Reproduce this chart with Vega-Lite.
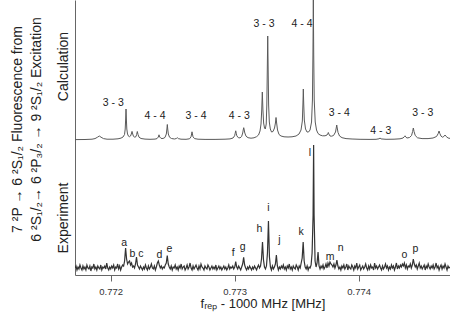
{
"$schema":"https://vega.github.io/schema/vega-lite/v6.json",
"width":375,"height":275,
"autosize":"none",
"padding":{"left":75,"top":0,"right":0,"bottom":43},
"background":"white",
"config":{"view":{"stroke":null},"font":"Liberation Sans"},
"datasets":{
"calc":[
{"f":0.7717121,"v":135.4},{"f":0.7717927,"v":135.5},{"f":0.7718492,"v":135.8},{"f":0.7718734,"v":136.4},{"f":0.7718935,"v":137.8},{"f":0.7719081,"v":139},{"f":0.7719218,"v":137.8},{"f":0.7719419,"v":136.4},{"f":0.7719702,"v":135.8},{"f":0.7720185,"v":135.8},
{"f":0.7720589,"v":136.2},{"f":0.7720831,"v":136.9},{"f":0.7720992,"v":138},{"f":0.7721113,"v":140.5},{"f":0.7721169,"v":146},{"f":0.7721202,"v":155},{"f":0.7721234,"v":166},{"f":0.7721266,"v":155},{"f":0.7721298,"v":146},{"f":0.7721355,"v":141},
{"f":0.7721435,"v":138.8},{"f":0.7721516,"v":138.3},{"f":0.7721597,"v":139},{"f":0.7721661,"v":141},{"f":0.7721718,"v":143.6},{"f":0.7721774,"v":141},{"f":0.7721839,"v":138.6},{"f":0.7721944,"v":137.8},{"f":0.772204,"v":138.4},{"f":0.7722089,"v":140.5},
{"f":0.7722145,"v":143.5},{"f":0.7722202,"v":140.5},{"f":0.7722282,"v":137.8},{"f":0.7722444,"v":136.5},{"f":0.7722766,"v":135.9},{"f":0.7723169,"v":135.7},{"f":0.7723573,"v":135.9},{"f":0.7723734,"v":136.4},{"f":0.7723839,"v":138},{"f":0.7723895,"v":140.2},
{"f":0.7723952,"v":138},{"f":0.7724056,"v":136.6},{"f":0.7724218,"v":136.5},{"f":0.7724379,"v":137.6},{"f":0.7724484,"v":141},{"f":0.7724532,"v":146},{"f":0.7724565,"v":150.5},{"f":0.7724597,"v":146},{"f":0.7724645,"v":141},{"f":0.7724742,"v":137.8},
{"f":0.7724903,"v":136.5},{"f":0.7725145,"v":136},{"f":0.772529,"v":136.5},{"f":0.7725371,"v":137.3},{"f":0.7725452,"v":136.4},{"f":0.7725669,"v":135.8},{"f":0.7726073,"v":135.7},{"f":0.7726355,"v":136.2},{"f":0.7726476,"v":138.2},{"f":0.7726524,"v":141},
{"f":0.7726556,"v":143.2},{"f":0.7726589,"v":141},{"f":0.7726637,"v":138.2},{"f":0.7726758,"v":136.4},{"f":0.772704,"v":135.8},{"f":0.7727605,"v":135.6},{"f":0.7728411,"v":135.6},{"f":0.7729218,"v":135.8},{"f":0.7729621,"v":136.1},{"f":0.7729863,"v":137},
{"f":0.7729992,"v":139.2},{"f":0.773004,"v":141.8},{"f":0.7730081,"v":144.2},{"f":0.7730121,"v":141.8},{"f":0.7730169,"v":139.2},{"f":0.773029,"v":137.3},{"f":0.7730427,"v":137.1},{"f":0.7730556,"v":138.5},{"f":0.7730645,"v":142},{"f":0.7730685,"v":145},
{"f":0.7730726,"v":147.3},{"f":0.7730766,"v":145},{"f":0.7730814,"v":142},{"f":0.7730911,"v":138.8},{"f":0.7731073,"v":137.3},{"f":0.7731315,"v":136.8},{"f":0.7731556,"v":137.2},{"f":0.7731758,"v":138.3},{"f":0.7731919,"v":140},{"f":0.773204,"v":144},
{"f":0.7732121,"v":151},{"f":0.7732177,"v":165},{"f":0.7732226,"v":183},{"f":0.7732274,"v":165},{"f":0.7732331,"v":152},{"f":0.7732403,"v":147},{"f":0.7732468,"v":146},{"f":0.773254,"v":151},{"f":0.7732589,"v":170},{"f":0.7732621,"v":200},
{"f":0.7732661,"v":239},{"f":0.7732702,"v":200},{"f":0.7732734,"v":170},{"f":0.773279,"v":153},{"f":0.7732871,"v":146},{"f":0.7732968,"v":143},{"f":0.7733089,"v":143.5},{"f":0.773321,"v":147},{"f":0.7733282,"v":152},{"f":0.7733331,"v":157.5},
{"f":0.7733379,"v":152},{"f":0.7733452,"v":145},{"f":0.7733573,"v":140.5},{"f":0.7733734,"v":139},{"f":0.7733976,"v":138.2},{"f":0.7734298,"v":138},{"f":0.7734621,"v":138.2},{"f":0.7734944,"v":139},{"f":0.7735185,"v":141},{"f":0.7735347,"v":145},
{"f":0.7735452,"v":154},{"f":0.77355,"v":171},{"f":0.7735532,"v":186},{"f":0.7735564,"v":171},{"f":0.7735613,"v":155},{"f":0.773571,"v":146},{"f":0.7735831,"v":143},{"f":0.7735952,"v":143},{"f":0.7736073,"v":145},{"f":0.7736194,"v":153},
{"f":0.7736266,"v":175},{"f":0.7736306,"v":220},{"f":0.7736339,"v":275},{"f":0.7736371,"v":220},{"f":0.7736411,"v":175},{"f":0.7736492,"v":153},{"f":0.7736597,"v":145},{"f":0.7736718,"v":141.5},{"f":0.7736879,"v":140},{"f":0.7737081,"v":139.2},
{"f":0.7737282,"v":139.2},{"f":0.7737444,"v":140},{"f":0.7737508,"v":141.5},{"f":0.7737548,"v":142.5},{"f":0.7737589,"v":141},{"f":0.7737685,"v":139},{"f":0.7737806,"v":138.8},{"f":0.7737968,"v":139.5},{"f":0.7738129,"v":143},{"f":0.7738185,"v":147},
{"f":0.7738226,"v":150},{"f":0.7738266,"v":147},{"f":0.7738331,"v":142.5},{"f":0.7738452,"v":139},{"f":0.7738653,"v":137.3},{"f":0.7738976,"v":136.4},{"f":0.773946,"v":136},{"f":0.7740105,"v":135.7},{"f":0.7740911,"v":135.6},{"f":0.7741395,"v":135.7},
{"f":0.7741637,"v":136.2},{"f":0.7741718,"v":137},{"f":0.7741798,"v":136.1},{"f":0.7742202,"v":135.7},{"f":0.7742847,"v":135.8},{"f":0.7743331,"v":136.2},{"f":0.7743573,"v":137},{"f":0.7743677,"v":138.3},{"f":0.7743734,"v":139.2},{"f":0.774379,"v":138},
{"f":0.7743895,"v":137},{"f":0.7744097,"v":137.5},{"f":0.7744258,"v":139.5},{"f":0.7744347,"v":143.5},{"f":0.7744403,"v":147},{"f":0.774446,"v":143.5},{"f":0.7744556,"v":139.5},{"f":0.7744742,"v":137.2},{"f":0.7745105,"v":136.4},{"f":0.7745589,"v":136.4},
{"f":0.7745992,"v":137},{"f":0.7746274,"v":138.5},{"f":0.7746411,"v":141.5},{"f":0.7746476,"v":144},{"f":0.774654,"v":141.5},{"f":0.7746637,"v":138.8},{"f":0.7746758,"v":137.8},{"f":0.7746863,"v":138.5},{"f":0.774696,"v":140},{"f":0.7747056,"v":138.5},
{"f":0.7747202,"v":137},{"f":0.7747363,"v":136.6}
],
"exp":[
{"f":0.771712,"v":7},{"f":0.77172,"v":9},{"f":0.771728,"v":5},{"f":0.771736,"v":8},{"f":0.771744,"v":6},{"f":0.771752,"v":10},{"f":0.77176,"v":7},{"f":0.771768,"v":5},{"f":0.771776,"v":9},{"f":0.771784,"v":6},
{"f":0.771792,"v":8},{"f":0.7718,"v":5},{"f":0.771808,"v":10},{"f":0.771816,"v":7},{"f":0.771824,"v":6},{"f":0.771832,"v":9},{"f":0.77184,"v":4},{"f":0.771848,"v":8},{"f":0.771856,"v":7},{"f":0.771864,"v":11},
{"f":0.771872,"v":6},{"f":0.77188,"v":8},{"f":0.771888,"v":5},{"f":0.771896,"v":9},{"f":0.771904,"v":7},{"f":0.771912,"v":6},{"f":0.77192,"v":10},{"f":0.771928,"v":5},{"f":0.771936,"v":8},{"f":0.771944,"v":7},
{"f":0.771952,"v":9},{"f":0.77196,"v":6},{"f":0.771968,"v":12},{"f":0.771976,"v":7},{"f":0.771984,"v":5},{"f":0.771992,"v":8},{"f":0.772,"v":6},{"f":0.772008,"v":9},{"f":0.772016,"v":7},{"f":0.772024,"v":10},
{"f":0.772032,"v":5},{"f":0.77204,"v":8},{"f":0.772048,"v":7},{"f":0.772056,"v":11},{"f":0.772064,"v":6},{"f":0.772072,"v":9},{"f":0.77208,"v":5},{"f":0.772088,"v":8},{"f":0.772096,"v":10},{"f":0.772104,"v":9},
{"f":0.772112,"v":14},{"f":0.77212,"v":27},{"f":0.772128,"v":16},{"f":0.772136,"v":11},{"f":0.772144,"v":13},{"f":0.772152,"v":14},{"f":0.77216,"v":10},{"f":0.772168,"v":12},{"f":0.772176,"v":8},{"f":0.772184,"v":9},
{"f":0.772192,"v":7},{"f":0.7722,"v":11},{"f":0.772208,"v":18},{"f":0.772216,"v":10},{"f":0.772224,"v":8},{"f":0.772232,"v":6},{"f":0.77224,"v":9},{"f":0.772248,"v":7},{"f":0.772256,"v":5},{"f":0.772264,"v":8},
{"f":0.772272,"v":6},{"f":0.77228,"v":10},{"f":0.772288,"v":7},{"f":0.772296,"v":5},{"f":0.772304,"v":9},{"f":0.772312,"v":6},{"f":0.77232,"v":8},{"f":0.772328,"v":11},{"f":0.772336,"v":7},{"f":0.772344,"v":6},
{"f":0.772352,"v":9},{"f":0.77236,"v":5},{"f":0.772368,"v":8},{"f":0.772376,"v":12},{"f":0.772384,"v":14},{"f":0.772392,"v":10},{"f":0.7724,"v":7},{"f":0.772408,"v":9},{"f":0.772416,"v":6},{"f":0.772424,"v":8},
{"f":0.772432,"v":7},{"f":0.77244,"v":10},{"f":0.772448,"v":12},{"f":0.772456,"v":19.5},{"f":0.772464,"v":11},{"f":0.772472,"v":8},{"f":0.77248,"v":6},{"f":0.772488,"v":9},{"f":0.772496,"v":5},{"f":0.772504,"v":8},
{"f":0.772512,"v":7},{"f":0.77252,"v":10},{"f":0.772528,"v":6},{"f":0.772536,"v":8},{"f":0.772544,"v":5},{"f":0.772552,"v":9},{"f":0.77256,"v":7},{"f":0.772568,"v":11},{"f":0.772576,"v":6},{"f":0.772584,"v":8},
{"f":0.772592,"v":9},{"f":0.7726,"v":5},{"f":0.772608,"v":7},{"f":0.772616,"v":10},{"f":0.772624,"v":6},{"f":0.772632,"v":8},{"f":0.77264,"v":12},{"f":0.772648,"v":7},{"f":0.772656,"v":5},{"f":0.772664,"v":9},
{"f":0.772672,"v":6},{"f":0.77268,"v":8},{"f":0.772688,"v":10},{"f":0.772696,"v":7},{"f":0.772704,"v":5},{"f":0.772712,"v":9},{"f":0.77272,"v":6},{"f":0.772728,"v":11},{"f":0.772736,"v":8},{"f":0.772744,"v":7},
{"f":0.772752,"v":5},{"f":0.77276,"v":9},{"f":0.772768,"v":7},{"f":0.772776,"v":6},{"f":0.772784,"v":10},{"f":0.772792,"v":8},{"f":0.7728,"v":5},{"f":0.772808,"v":7},{"f":0.772816,"v":9},{"f":0.772824,"v":6},
{"f":0.772832,"v":8},{"f":0.77284,"v":6},{"f":0.772848,"v":10},{"f":0.772856,"v":5},{"f":0.772864,"v":7},{"f":0.772872,"v":9},{"f":0.77288,"v":6},{"f":0.772888,"v":8},{"f":0.772896,"v":5},{"f":0.772904,"v":7},
{"f":0.772912,"v":9},{"f":0.77292,"v":6},{"f":0.772928,"v":8},{"f":0.772936,"v":5},{"f":0.772944,"v":7},{"f":0.772952,"v":10},{"f":0.77296,"v":6},{"f":0.772968,"v":8},{"f":0.772976,"v":7},{"f":0.772984,"v":9},
{"f":0.772992,"v":6},{"f":0.773,"v":8},{"f":0.773008,"v":13.3},{"f":0.773016,"v":8},{"f":0.773024,"v":6},{"f":0.773032,"v":9},{"f":0.77304,"v":7},{"f":0.773048,"v":5},{"f":0.773056,"v":8},{"f":0.773064,"v":11},
{"f":0.773072,"v":17.7},{"f":0.77308,"v":10},{"f":0.773088,"v":7},{"f":0.773096,"v":5},{"f":0.773104,"v":8},{"f":0.773112,"v":6},{"f":0.77312,"v":9},{"f":0.773128,"v":7},{"f":0.773136,"v":5},{"f":0.773144,"v":8},
{"f":0.773152,"v":6},{"f":0.77316,"v":9},{"f":0.773168,"v":7},{"f":0.773176,"v":5},{"f":0.773184,"v":8},{"f":0.773192,"v":10},{"f":0.7732,"v":7},{"f":0.773208,"v":9},{"f":0.773216,"v":16},{"f":0.773224,"v":33},
{"f":0.773232,"v":15},{"f":0.77324,"v":8},{"f":0.773248,"v":6},{"f":0.773256,"v":9},{"f":0.773264,"v":22},{"f":0.773272,"v":54},{"f":0.77328,"v":18},{"f":0.773288,"v":8},{"f":0.773296,"v":5},{"f":0.773304,"v":9},
{"f":0.773312,"v":6},{"f":0.77332,"v":8},{"f":0.773328,"v":11},{"f":0.773336,"v":20},{"f":0.773344,"v":9},{"f":0.773352,"v":5},{"f":0.77336,"v":8},{"f":0.773368,"v":6},{"f":0.773376,"v":9},{"f":0.773384,"v":7},
{"f":0.773392,"v":10},{"f":0.7734,"v":6},{"f":0.773408,"v":8},{"f":0.773416,"v":5},{"f":0.773424,"v":9},{"f":0.773432,"v":7},{"f":0.77344,"v":11},{"f":0.773448,"v":6},{"f":0.773456,"v":8},{"f":0.773464,"v":5},
{"f":0.773472,"v":9},{"f":0.77348,"v":7},{"f":0.773488,"v":6},{"f":0.773496,"v":10},{"f":0.773504,"v":8},{"f":0.773512,"v":5},{"f":0.77352,"v":9},{"f":0.773528,"v":7},{"f":0.773536,"v":12},{"f":0.773544,"v":17},
{"f":0.773552,"v":33},{"f":0.77356,"v":14},{"f":0.773568,"v":8},{"f":0.773576,"v":6},{"f":0.773584,"v":9},{"f":0.773592,"v":5},{"f":0.7736,"v":8},{"f":0.773608,"v":7},{"f":0.773616,"v":10},{"f":0.773624,"v":22},
{"f":0.773632,"v":60},{"f":0.7736363,"v":130},{"f":0.77364,"v":60},{"f":0.773648,"v":14},{"f":0.773656,"v":8},{"f":0.773664,"v":12},{"f":0.773672,"v":23},{"f":0.77368,"v":9},{"f":0.773688,"v":6},{"f":0.773696,"v":9},{"f":0.773704,"v":7},
{"f":0.773712,"v":10},{"f":0.77372,"v":6},{"f":0.773728,"v":8},{"f":0.773736,"v":11},{"f":0.773744,"v":7},{"f":0.773752,"v":12},{"f":0.77376,"v":9},{"f":0.773768,"v":13},{"f":0.773776,"v":11},{"f":0.773784,"v":10},
{"f":0.773792,"v":8},{"f":0.7738,"v":11},{"f":0.773808,"v":7},{"f":0.773816,"v":10},{"f":0.773824,"v":15},{"f":0.773832,"v":9},{"f":0.77384,"v":6},{"f":0.773848,"v":8},{"f":0.773856,"v":5},{"f":0.773864,"v":9},
{"f":0.773872,"v":7},{"f":0.77388,"v":10},{"f":0.773888,"v":6},{"f":0.773896,"v":8},{"f":0.773904,"v":11},{"f":0.773912,"v":5},{"f":0.77392,"v":9},{"f":0.773928,"v":7},{"f":0.773936,"v":6},{"f":0.773944,"v":10},
{"f":0.773952,"v":8},{"f":0.77396,"v":5},{"f":0.773968,"v":9},{"f":0.773976,"v":7},{"f":0.773984,"v":12},{"f":0.773992,"v":6},{"f":0.774,"v":8},{"f":0.774008,"v":10},{"f":0.774016,"v":5},{"f":0.774024,"v":7},
{"f":0.774032,"v":9},{"f":0.77404,"v":6},{"f":0.774048,"v":8},{"f":0.774056,"v":11},{"f":0.774064,"v":7},{"f":0.774072,"v":5},{"f":0.77408,"v":9},{"f":0.774088,"v":6},{"f":0.774096,"v":10},{"f":0.774104,"v":7},
{"f":0.774112,"v":8},{"f":0.77412,"v":5},{"f":0.774128,"v":12},{"f":0.774136,"v":7},{"f":0.774144,"v":9},{"f":0.774152,"v":6},{"f":0.77416,"v":8},{"f":0.774168,"v":10},{"f":0.774176,"v":7},{"f":0.774184,"v":5},
{"f":0.774192,"v":9},{"f":0.7742,"v":6},{"f":0.774208,"v":8},{"f":0.774216,"v":11},{"f":0.774224,"v":7},{"f":0.774232,"v":9},{"f":0.77424,"v":5},{"f":0.774248,"v":8},{"f":0.774256,"v":6},{"f":0.774264,"v":10},
{"f":0.774272,"v":7},{"f":0.77428,"v":9},{"f":0.774288,"v":5},{"f":0.774296,"v":8},{"f":0.774304,"v":12},{"f":0.774312,"v":6},{"f":0.77432,"v":9},{"f":0.774328,"v":7},{"f":0.774336,"v":10},{"f":0.774344,"v":8},
{"f":0.774352,"v":11},{"f":0.77436,"v":9},{"f":0.774368,"v":12},{"f":0.774376,"v":7},{"f":0.774384,"v":10},{"f":0.774392,"v":6},{"f":0.7744,"v":9},{"f":0.774408,"v":8},{"f":0.774416,"v":11},{"f":0.774424,"v":7},
{"f":0.774432,"v":10},{"f":0.77444,"v":16},{"f":0.774448,"v":11},{"f":0.774456,"v":8},{"f":0.774464,"v":10},{"f":0.774472,"v":6},{"f":0.77448,"v":9},{"f":0.774488,"v":12},{"f":0.774496,"v":7},{"f":0.774504,"v":9},
{"f":0.774512,"v":6},{"f":0.77452,"v":8},{"f":0.774528,"v":10},{"f":0.774536,"v":5},{"f":0.774544,"v":9},{"f":0.774552,"v":7},{"f":0.77456,"v":11},{"f":0.774568,"v":8},{"f":0.774576,"v":6},{"f":0.774584,"v":9},
{"f":0.774592,"v":7},{"f":0.7746,"v":10},{"f":0.774608,"v":6},{"f":0.774616,"v":8},{"f":0.774624,"v":12},{"f":0.774632,"v":7},{"f":0.77464,"v":9},{"f":0.774648,"v":5},{"f":0.774656,"v":8},{"f":0.774664,"v":10},
{"f":0.774672,"v":6},{"f":0.77468,"v":9},{"f":0.774688,"v":7},{"f":0.774696,"v":11},{"f":0.774704,"v":8},{"f":0.774712,"v":5},{"f":0.77472,"v":9},{"f":0.774728,"v":7},{"f":0.774736,"v":8}
],
"lab":[
{"f":0.772021,"v":172.3,"t":"3 - 3"},{"f":0.7723573,"v":159.3,"t":"4 - 4"},{"f":0.7726879,"v":159.3,"t":"3 - 4"},{"f":0.7730371,"v":159.3,"t":"4 - 3"},{"f":0.7732363,"v":250.7,"t":"3 - 3"},{"f":0.7735427,"v":250.7,"t":"4 - 4"},{"f":0.7738435,"v":162.3,"t":"3 - 4"},{"f":0.7741774,"v":144,"t":"4 - 3"},{"f":0.7745161,"v":162.3,"t":"3 - 3"},
{"f":0.7721089,"v":32.5,"t":"a"},{"f":0.7721742,"v":21.5,"t":"b"},{"f":0.7722427,"v":21,"t":"c"},{"f":0.7723919,"v":20,"t":"d"},{"f":0.7724726,"v":26.5,"t":"e"},{"f":0.7729887,"v":21.7,"t":"f"},{"f":0.7730645,"v":27.7,"t":"g"},{"f":0.7731984,"v":45.7,"t":"h"},
{"f":0.773271,"v":66.7,"t":"i"},{"f":0.7733597,"v":35,"t":"j"},{"f":0.7735347,"v":43.3,"t":"k"},{"f":0.7736073,"v":121.7,"t":"l"},{"f":0.7737685,"v":18.3,"t":"m"},{"f":0.7738548,"v":26.7,"t":"n"},{"f":0.7743677,"v":20,"t":"o"},{"f":0.7744565,"v":26.3,"t":"p"}
]
},
"encoding":{
"x":{"field":"f","type":"quantitative","scale":{"domain":[0.771712,0.774736],"nice":false,"zero":false},
"axis":{"values":[0.772,0.773,0.774],"format":".3f","grid":false,"tickSize":6,"tickColor":"#666","domainColor":"#666","labelFontSize":9.5,"labelColor":"#333","labelPadding":5,"labelFlush":false,
"title":"fᵣₑₚ - 1000 MHz [MHz]","titleFontSize":13,"titleFontWeight":"normal","titleColor":"#222","titlePadding":2}},
"y":{"field":"v","type":"quantitative","scale":{"domain":[0,275],"nice":false,"zero":false},
"axis":{"values":[209,57.5],"labelExpr":"datum.value > 100 ? 'Calculation' : 'Experiment'","labelAngle":-90,"labelAlign":"center","labelBaseline":"alphabetic","labelFontSize":14,"labelColor":"#222","labelPadding":8,"ticks":false,"tickSize":0,"grid":false,"domainColor":"#666","labelOverlap":false,"labelFlush":false,
"title":["7 ²P → 6 ²S₁/₂ Fluorescence from","6 ²S₁/₂→ 6 ²P₃/₂ → 9 ²S₁/₂ Excitation"],"titleFontSize":14,"titleFontWeight":"normal","titleColor":"#222","titleLineHeight":19,"titlePadding":13,"titleY":129}}
},
"layer":[
{"data":{"name":"calc"},"mark":{"type":"line","color":"#5a5a5a","strokeWidth":1,"clip":true}},
{"data":{"name":"exp"},"mark":{"type":"line","color":"#333333","strokeWidth":1.2,"clip":true}},
{"data":{"name":"lab"},"mark":{"type":"text","fontSize":10.5,"color":"#222222","align":"center","baseline":"middle"},"encoding":{"text":{"field":"t","type":"nominal"}}}
]
}
